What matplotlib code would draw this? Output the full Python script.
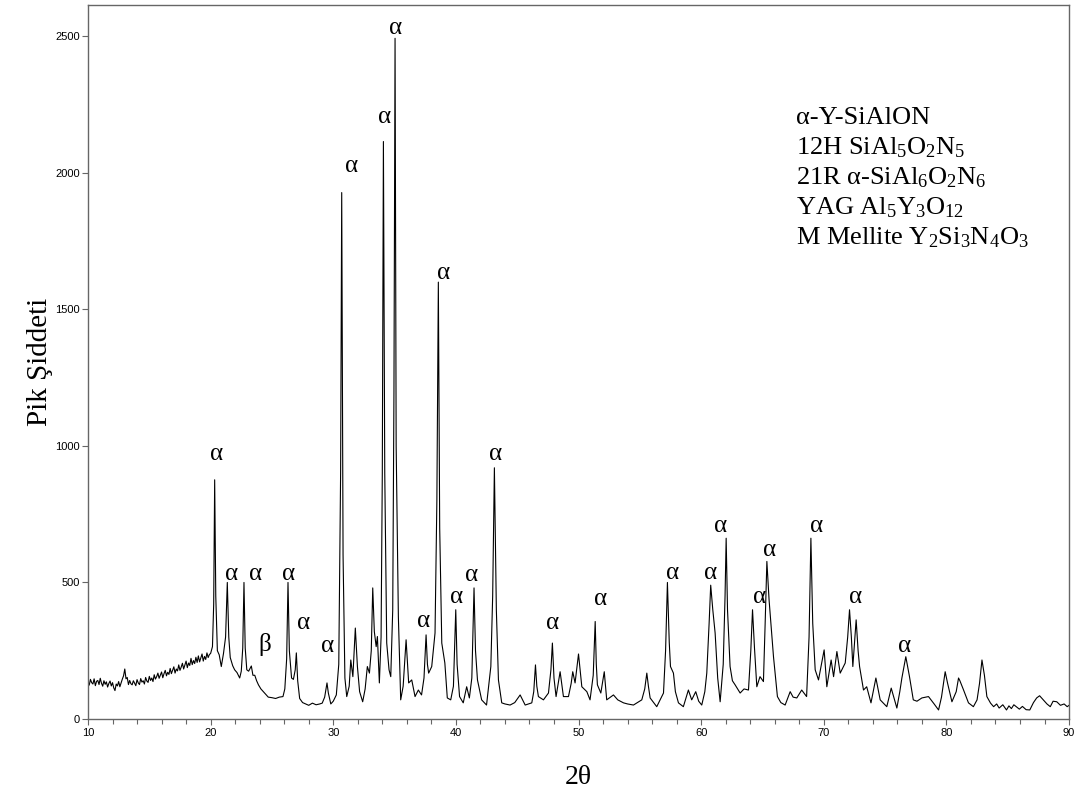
import matplotlib
matplotlib.use("Agg")
import matplotlib.pyplot as plt
from matplotlib.ticker import MultipleLocator

plt.rcParams['font.family'] = ['Liberation Serif', 'DejaVu Serif']
plt.rcParams['mathtext.fontset'] = 'custom'
plt.rcParams['mathtext.rm'] = 'Liberation Serif'
plt.rcParams['mathtext.it'] = 'Liberation Serif:italic'

# low angle amorphous hump, 10-20 deg (0.1 deg steps)
low_theta = [
    10.0, 10.1, 10.2, 10.3, 10.4, 10.5, 10.6, 10.7, 10.8, 10.9,
    11.0, 11.1, 11.2, 11.3, 11.4, 11.5, 11.6, 11.7, 11.8, 11.9,
    12.0, 12.1, 12.2, 12.3, 12.4, 12.5, 12.6, 12.7, 12.8, 12.9,
    13.0, 13.1, 13.2, 13.3, 13.4, 13.5, 13.6, 13.7, 13.8, 13.9,
    14.0, 14.1, 14.2, 14.3, 14.4, 14.5, 14.6, 14.7, 14.8, 14.9,
    15.0, 15.1, 15.2, 15.3, 15.4, 15.5, 15.6, 15.7, 15.8, 15.9,
    16.0, 16.1, 16.2, 16.3, 16.4, 16.5, 16.6, 16.7, 16.8, 16.9,
    17.0, 17.1, 17.2, 17.3, 17.4, 17.5, 17.6, 17.7, 17.8, 17.9,
    18.0, 18.1, 18.2, 18.3, 18.4, 18.5, 18.6, 18.7, 18.8, 18.9,
    19.0, 19.1, 19.2, 19.3, 19.4, 19.5, 19.6, 19.7, 19.8, 19.9,
]
low_counts = [
    137, 124, 145, 133, 128, 147, 122, 138, 141, 126,
    149, 131, 120, 140, 127, 136, 117, 130, 139, 121,
    133, 114, 104, 128, 121, 137, 118, 132, 146, 158,
    183, 147, 152, 126, 141, 129, 125, 140, 131, 122,
    144, 132, 126, 148, 135, 140, 128, 152, 139, 134,
    156, 141, 150, 137, 162, 146, 155, 168, 149, 160,
    172, 151, 166, 178, 158, 171, 163, 185, 166, 179,
    191, 168, 183, 176, 198, 178, 190, 204, 183, 197,
    212, 188, 205, 196, 222, 199, 214, 203, 226, 207,
    231, 209, 224, 238, 212, 229, 218, 242, 225, 236,
]

# crystalline part, 20-90 deg
two_theta = [
    20.0, 20.15, 20.25,
    20.33, 20.42, 20.55, 20.7, 20.87, 21.05, 21.22, 21.36, 21.48, 21.6, 21.8, 21.96, 22.15, 22.37, 22.5,
    22.62, 22.72, 22.82, 22.95, 23.1, 23.32, 23.45, 23.6, 23.75, 23.9, 24.1, 24.3, 24.5, 24.7, 25.0,
    25.3, 25.6, 25.9, 26.05, 26.2, 26.31, 26.42, 26.6, 26.75, 26.9, 26.99, 27.1, 27.26, 27.5, 27.75,
    28.0, 28.3, 28.6, 28.9, 29.1, 29.3, 29.49, 29.6, 29.8, 30.0, 30.25, 30.45, 30.6, 30.69, 30.8,
    30.95, 31.1, 31.3, 31.43, 31.6, 31.8, 31.97, 32.15, 32.4, 32.6, 32.78, 32.95, 33.1, 33.22, 33.35,
    33.5, 33.6, 33.76, 33.9, 34.0, 34.09, 34.2, 34.36, 34.55, 34.69, 34.85, 34.95, 35.04, 35.13, 35.31,
    35.5, 35.7, 35.94, 36.15, 36.4, 36.67, 36.94, 37.2, 37.4, 37.57, 37.68, 37.78, 38.03, 38.3, 38.45,
    38.57, 38.68, 38.85, 39.1, 39.3, 39.58, 39.8, 39.99, 40.1, 40.3, 40.6, 40.88, 41.1, 41.3, 41.48,
    41.6, 41.76, 42.1, 42.5, 42.85, 43.0, 43.14, 43.3, 43.47, 43.74, 44.0, 44.42, 44.8, 45.24, 45.65,
    46.19, 46.35, 46.49, 46.6, 46.73, 47.14, 47.55, 47.75, 47.87, 48.0, 48.17, 48.5, 48.77, 49.18, 49.4,
    49.53, 49.72, 50.0, 50.15, 50.27, 50.68, 50.94, 51.2, 51.36, 51.45, 51.54, 51.82, 52.1, 52.3, 52.85,
    53.2, 53.67, 54.0, 54.48, 55.16, 55.4, 55.57, 55.7, 55.84, 56.38, 56.93, 57.1, 57.25, 57.4, 57.5,
    57.74, 57.9, 58.15, 58.55, 58.96, 59.23, 59.56, 59.8, 60.05, 60.3, 60.46, 60.65, 60.78, 60.95, 61.14,
    61.35, 61.55, 61.8, 61.95, 62.04, 62.15, 62.36, 62.55, 62.77, 63.18, 63.5, 63.86, 64.05, 64.19, 64.35,
    64.54, 64.8, 65.08, 65.22, 65.36, 65.54, 65.9, 66.22, 66.5, 66.85, 67.26, 67.5, 67.8, 68.2, 68.6,
    68.8, 68.95, 69.1, 69.3, 69.57, 70.03, 70.25, 70.6, 70.8, 71.07, 71.34, 71.75, 71.95, 72.1, 72.25,
    72.37, 72.64, 72.8, 72.92, 73.24, 73.5, 73.85, 74.25, 74.6, 75.14, 75.5, 75.96, 76.2, 76.37, 76.69,
    76.99, 77.3, 77.6, 78.0, 78.54, 79.0, 79.36, 79.6, 79.9, 80.1, 80.45, 80.8, 80.99, 81.1, 81.4,
    81.8, 82.2, 82.5, 82.7, 82.9, 83.1, 83.3, 83.6, 83.85, 84.1, 84.3, 84.6, 84.9, 85.1, 85.3,
    85.5, 85.7, 85.95, 86.2, 86.5, 86.8, 87.1, 87.36, 87.6, 87.9, 88.2, 88.47, 88.7, 89.0, 89.3,
    89.6, 89.85, 90.0,
]
intensity = [
    240, 265, 420,
    876, 450, 250, 235, 192, 240, 300, 500, 300, 225, 195, 180, 170, 150, 175,
    260, 500, 260, 180, 175, 194, 160, 160, 140, 125, 110, 100, 90, 80, 78,
    75, 80, 82, 110, 220, 500, 250, 150, 145, 180, 242, 140, 75, 60, 55,
    50, 58, 52, 55, 58, 80, 132, 95, 55, 65, 88, 200, 900, 1928, 600,
    150, 82, 120, 216, 155, 333, 192, 100, 63, 110, 192, 168, 250, 480, 320,
    265, 302, 132, 300, 900, 2115, 900, 278, 180, 155, 400, 1200, 2493, 1000, 375,
    70, 120, 290, 132, 143, 82, 106, 88, 150, 308, 200, 168, 192, 315, 800,
    1600, 700, 278, 205, 77, 70, 120, 400, 200, 82, 59, 118, 77, 150, 480,
    250, 143, 70, 51, 192, 450, 920, 400, 143, 59, 55, 51, 60, 88, 51,
    59, 100, 198, 120, 82, 70, 95, 180, 278, 150, 82, 173, 82, 82, 130,
    173, 132, 238, 170, 118, 100, 70, 160, 357, 200, 125, 95, 173, 70, 88,
    70, 59, 55, 51, 70, 110, 168, 120, 77, 45, 95, 250, 500, 280, 192,
    168, 100, 59, 45, 106, 70, 100, 65, 51, 100, 168, 350, 490, 400, 315,
    150, 63, 200, 450, 662, 400, 192, 140, 125, 95, 110, 106, 250, 400, 260,
    118, 155, 137, 350, 577, 436, 228, 82, 60, 51, 100, 80, 77, 106, 82,
    300, 662, 350, 180, 143, 253, 118, 216, 155, 247, 168, 205, 300, 400, 300,
    192, 363, 250, 192, 106, 118, 59, 150, 70, 45, 113, 40, 100, 150, 228,
    155, 70, 65, 77, 82, 55, 33, 80, 173, 130, 63, 100, 150, 140, 106,
    59, 45, 70, 130, 216, 160, 82, 58, 45, 55, 40, 52, 33, 48, 38,
    52, 45, 36, 46, 34, 33, 60, 77, 85, 70, 55, 45, 65, 63, 50,
    55, 45, 50,
]

# phase marks above the peaks
label_x = [20.5, 21.72, 23.68, 26.34, 24.38, 27.56, 29.55, 31.5, 34.17, 35.1, 37.35, 38.98,
           40.07, 41.3, 43.2, 47.9, 51.82, 57.68, 60.8, 61.6, 64.75, 65.55, 69.43, 72.62, 76.58]
label_y = [971, 531, 531, 531, 271, 353, 268, 2025, 2205, 2532, 357, 1634,
           446, 528, 971, 353, 441, 534, 534, 707, 445, 619, 707, 445, 268]
label_txt = ['α'] * 25
label_txt[4] = 'β'

legend_lines = [
    'α-Y-SiAlON',
    '12H SiAl$_5$O$_2$N$_5$',
    '21R α-SiAl$_6$O$_2$N$_6$',
    'YAG Al$_5$Y$_3$O$_{12}$',
    'M Mellite Y$_2$Si$_3$N$_4$O$_3$',
]
legend_y = [0.8333, 0.7913, 0.7493, 0.7073, 0.6653]

fig = plt.figure(figsize=(10.77, 7.94), dpi=100)
ax = fig.add_axes([0.0817, 0.0945, 0.9109, 0.8992])

ax.plot(low_theta + two_theta, low_counts + intensity, color='black', lw=0.8)

for x, y, t in zip(label_x, label_y, label_txt):
    ax.text(x, y, t, ha='center', va='center', fontsize=18)

for line, yy in zip(legend_lines, legend_y):
    ax.text(0.7217, yy, line, transform=ax.transAxes, ha='left', va='baseline', fontsize=19)

ax.set_xlim(10, 90)
ax.set_ylim(0, 2615)
ax.xaxis.set_major_locator(MultipleLocator(10))
ax.xaxis.set_minor_locator(MultipleLocator(2))
ax.yaxis.set_major_locator(MultipleLocator(500))

for s in ax.spines.values():
    s.set_color('#666666')
    s.set_linewidth(1.0)
ax.tick_params(which='both', direction='out', color='#666666', width=0.8)
ax.tick_params(which='major', length=4.5)
ax.tick_params(which='minor', length=3.5)
for lab in ax.get_xticklabels() + ax.get_yticklabels():
    lab.set_family('Liberation Sans')
    lab.set_fontsize(8)
ax.tick_params(axis='x', pad=2)
ax.tick_params(axis='y', pad=1.5)

ax.set_xlabel('2θ', fontsize=20)
ax.xaxis.set_label_coords(0.5, -0.082)
ax.xaxis.label.set_va('center')
ax.set_ylabel('Pik Şiddeti', fontsize=21)
ax.yaxis.set_label_coords(-0.049, 0.5)
ax.yaxis.label.set_va('center')

fig.savefig('out.png', dpi=100)
